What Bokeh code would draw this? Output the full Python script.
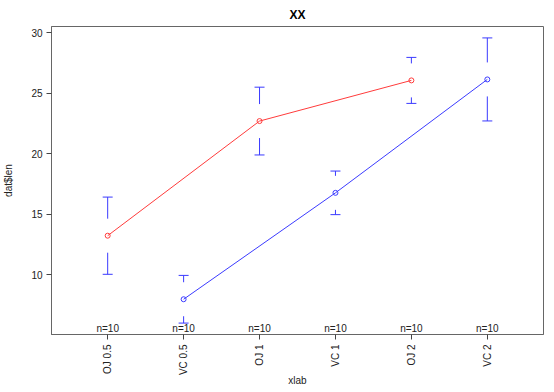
import math
from bokeh.plotting import figure
from bokeh.models import Range1d, FixedTicker
from bokeh.core.properties import value
from bokeh.embed import file_html
from bokeh.resources import INLINE

# ---- data ----
labels = ["OJ 0.5", "VC 0.5", "OJ 1", "VC 1", "OJ 2", "VC 2"]
means = [13.23, 7.98, 22.70, 16.77, 26.06, 26.14]
ci_lo = [10.04, 6.01, 19.90, 14.97, 24.16, 22.71]
ci_hi = [16.42, 9.95, 25.50, 18.57, 27.96, 29.57]
n_labels = ["n=10"] * 6
oj_idx = [0, 2, 4]
vc_idx = [1, 3, 5]
y_ticks = [10, 15, 20, 25, 30]

FONT = "Liberation Sans"
xs = list(range(1, len(labels) + 1))

# R-style ranges (4% extension)
ylo, yhi = min(ci_lo), max(ci_hi)
pad = (yhi - ylo) * 0.04
y0, y1 = ylo - pad, yhi + pad
xpad = len(labels) * 0.04
x0, x1 = 0.5 - xpad, len(labels) + 0.5 + xpad

FW, FH = 492, 308
p = figure(width=538, height=376, frame_width=FW, frame_height=FH,
           x_range=Range1d(x0, x1), y_range=Range1d(y0, y1),
           output_backend="svg", toolbar_location=None,
           min_border_left=45, min_border_right=1, min_border_top=22, min_border_bottom=46,
           title="XX")
p.title.align = "center"
p.title.text_font = FONT
p.title.text_font_size = "12px"
p.title.text_font_style = "bold"
p.title.text_color = "#000000"

p.grid.visible = False
p.outline_line_color = "#666666"
p.outline_line_width = 1

for ax in (p.xaxis[0], p.yaxis[0]):
    ax.axis_line_color = "#666666"
    ax.major_tick_line_color = "#444444"
    ax.major_tick_out = 5
    ax.major_tick_in = 0
    ax.minor_tick_line_color = None
    ax.major_label_text_font = FONT
    ax.major_label_text_font_size = "10px"
    ax.major_label_text_color = "#222222"
    ax.axis_label_text_font = FONT
    ax.axis_label_text_font_size = "10px"
    ax.axis_label_text_font_style = "normal"
    ax.axis_label_text_color = "#222222"

p.xaxis.ticker = FixedTicker(ticks=xs)
p.xaxis.major_label_overrides = {x: l for x, l in zip(xs, labels)}
p.xaxis.major_label_orientation = math.pi / 2
p.xaxis.major_label_standoff = 5
p.xaxis.axis_label = "xlab"
p.xaxis.axis_label_standoff = -3

p.yaxis.ticker = FixedTicker(ticks=y_ticks)
p.yaxis.major_label_standoff = 4
p.yaxis.axis_label = "dat$len"
p.yaxis.axis_label_standoff = 14

# error bars with gap around the mean
gap = 17 * (y1 - y0) / FH
cap = 5 * (x1 - x0) / FW
ux, uy0, uy1, lx, ly0, ly1 = [], [], [], [], [], []
for x, m, lo, hi in zip(xs, means, ci_lo, ci_hi):
    if hi > m + gap:
        ux.append(x); uy0.append(hi); uy1.append(m + gap)
    if lo < m - gap:
        lx.append(x); ly0.append(lo); ly1.append(m - gap)
ebc = "#3a3aFF"
p.segment(x0=ux, y0=uy0, x1=ux, y1=uy1, line_color=ebc, line_width=1)
p.segment(x0=lx, y0=ly0, x1=lx, y1=ly1, line_color=ebc, line_width=1)
p.segment(x0=[x - cap for x in xs], y0=ci_hi, x1=[x + cap for x in xs], y1=ci_hi,
          line_color=ebc, line_width=1)
p.segment(x0=[x - cap for x in xs], y0=ci_lo, x1=[x + cap for x in xs], y1=ci_lo,
          line_color=ebc, line_width=1)

# lines and points
red, blue = "#FF3b3b", "#3b3bFF"
p.line([xs[i] for i in oj_idx], [means[i] for i in oj_idx], line_color=red, line_width=1)
p.line([xs[i] for i in vc_idx], [means[i] for i in vc_idx], line_color=blue, line_width=1)
p.scatter([xs[i] for i in oj_idx], [means[i] for i in oj_idx], marker="circle", size=5,
          fill_color=None, line_color=red, line_width=1)
p.scatter([xs[i] for i in vc_idx], [means[i] for i in vc_idx], marker="circle", size=5,
          fill_color=None, line_color=blue, line_width=1)

# n labels
p.text(x=xs, y=[y0] * len(xs), text=n_labels, text_font=value(FONT),
       text_font_size="10px", text_align="center", text_baseline="bottom",
       text_color="#222222", y_offset=-1)

open("out.html", "w").write(file_html(p, INLINE))
